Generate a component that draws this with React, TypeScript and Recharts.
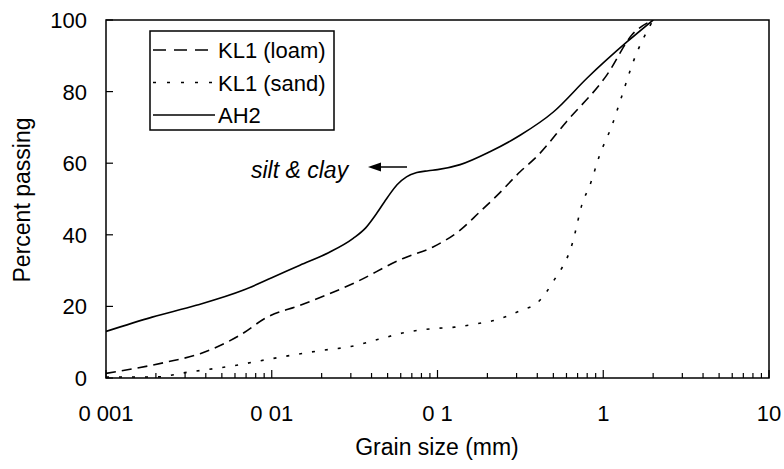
import React from 'react';
import { LineChart, Line, XAxis, YAxis, ReferenceArea, Customized } from 'recharts';

const FONT = '"Liberation Sans", Arial, Helvetica, sans-serif';

// Grain size (mm) and percent passing for each sample
const ah2Size = [0.001, 0.0019, 0.0035, 0.0067, 0.01, 0.0148, 0.022, 0.031, 0.037, 0.043, 0.05, 0.057, 0.065, 0.075, 0.088, 0.1, 0.137, 0.207, 0.315, 0.5, 0.8, 1.4, 2];
const ah2Pass = [13, 17, 20.3, 24.5, 28, 31.5, 35, 39, 42, 46, 50.5, 54, 56.2, 57.4, 57.9, 58.2, 59.6, 63.2, 67.8, 74.3, 83.8, 94, 100];

const loamSize = [0.001, 0.0023, 0.0037, 0.0064, 0.0094, 0.0148, 0.031, 0.062, 0.094, 0.137, 0.18, 0.229, 0.315, 0.4, 0.6, 1.05, 1.5, 2];
const loamPass = [1.3, 4.4, 6.8, 11.9, 17, 20.3, 26.4, 33.4, 36.6, 41.3, 46.4, 51, 57.6, 62, 71.6, 84.6, 96, 100];

const sandSize = [0.001, 0.002, 0.003, 0.006, 0.01, 0.02, 0.03, 0.044, 0.065, 0.094, 0.127, 0.176, 0.22, 0.32, 0.4, 0.5, 0.65, 0.75, 0.83, 0.95, 1.13, 1.26, 1.53, 2];
const sandPass = [0.3, 0.3, 1.5, 3.5, 5.4, 7.7, 8.8, 10.8, 12.8, 13.8, 14.2, 15.2, 16.1, 18.9, 21, 27, 37.5, 49, 53.8, 62.2, 70.6, 77.1, 88.8, 100];

const seriesNames = ['KL1 (loam)', 'KL1 (sand)', 'AH2'];
const seriesDash = ['10 6', '3 10', undefined];
const legendDash = ['13 8', '3 11', undefined];

const xMajorTicks = [0.001, 0.01, 0.1, 1, 10];
const xTickLabels = ['0 001', '0 01', '0 1', '1', '10'];
const xMinorFactors = [2, 3, 4, 5, 6, 7, 8, 9];
const yTicks = [0, 20, 40, 60, 80, 100];

const xAllTicks: number[] = [];
xMajorTicks.forEach((m, i) => {
  xAllTicks.push(m);
  if (i < xMajorTicks.length - 1) xMinorFactors.forEach((f) => xAllTicks.push(m * f));
});

const toPoints = (d: number[], p: number[]) => d.map((v, i) => ({ d: v, p: p[i] }));
const ah2Data = toPoints(ah2Size, ah2Pass);
const loamData = toPoints(loamSize, loamPass);
const sandData = toPoints(sandSize, sandPass);

const XTick = (props: any) => {
  const { x, y, payload } = props;
  const v = payload.value;
  const idx = xMajorTicks.findIndex((m) => Math.abs(m - v) / m < 1e-6);
  const major = idx >= 0;
  return (
    <g>
      <line x1={x} x2={x} y1={y} y2={y - (major ? 8 : 5)} stroke="#000" strokeWidth={1.2} />
      {major && (
        <text x={x} y={y + 43} textAnchor="middle" fontSize={22} fontFamily={FONT} fill="#000">
          {xTickLabels[idx]}
        </text>
      )}
    </g>
  );
};

const YTick = (props: any) => {
  const { x, y, payload } = props;
  return (
    <g>
      <line x1={x} x2={x + 7} y1={y} y2={y} stroke="#000" strokeWidth={1.2} />
      <text x={x - 19} y={y + 8} textAnchor="end" fontSize={22} fontFamily={FONT} fill="#000">
        {payload.value}
      </text>
    </g>
  );
};

const Overlay = () => (
  <g>
    {/* legend */}
    <rect x={150} y={31} width={184} height={99} fill="#fff" stroke="#000" strokeWidth={1.5} />
    {seriesNames.map((name, i) => {
      const cy = 50 + i * 32.5;
      return (
        <g key={name}>
          <line x1={153} x2={215} y1={cy} y2={cy} stroke="#000" strokeWidth={1.5} strokeDasharray={legendDash[i]} />
          <text x={218} y={cy + 8} fontSize={22} fontFamily={FONT} fill="#000">
            {name}
          </text>
        </g>
      );
    })}
    {/* annotation */}
    <text x={251} y={178} fontSize={23} fontStyle="italic" fontFamily={FONT} fill="#000">
      silt &amp; clay
    </text>
    <line x1={378} x2={407} y1={167} y2={167} stroke="#000" strokeWidth={1.5} />
    <path d="M368,167 L381,162.5 L381,171.5 Z" fill="#000" />
  </g>
);

export default function App() {
  return (
    <div style={{ position: 'absolute', left: 0, top: 0, width: 784, height: 469, background: '#fff' }}>
      <LineChart width={784} height={469} margin={{ top: 20, right: 15, bottom: 61, left: 46 }}>
        <XAxis
          type="number"
          dataKey="d"
          scale="log"
          domain={[0.001, 10]}
          ticks={xAllTicks}
          interval={0}
          allowDataOverflow
          height={30}
          tickSize={0}
          tickMargin={0}
          tickLine={false}
          axisLine={false}
          tick={<XTick />}
        />
        <YAxis
          type="number"
          dataKey="p"
          domain={[0, 100]}
          ticks={yTicks}
          interval={0}
          allowDataOverflow
          width={60}
          tickSize={0}
          tickMargin={0}
          tickLine={false}
          axisLine={false}
          tick={<YTick />}
        />
        <ReferenceArea x1={0.001} x2={10} y1={0} y2={100} fill="none" fillOpacity={0} stroke="#000" strokeWidth={1.5} ifOverflow="visible" />
        <Line data={loamData} dataKey="p" name={seriesNames[0]} type="monotone" stroke="#000" strokeWidth={1.6} strokeDasharray={seriesDash[0]} dot={false} isAnimationActive={false} />
        <Line data={sandData} dataKey="p" name={seriesNames[1]} type="monotone" stroke="#000" strokeWidth={1.6} strokeDasharray={seriesDash[1]} dot={false} isAnimationActive={false} />
        <Line data={ah2Data} dataKey="p" name={seriesNames[2]} type="monotone" stroke="#000" strokeWidth={1.6} dot={false} isAnimationActive={false} />
        <Customized component={Overlay} />
        <text x={30} y={200} transform="rotate(-90 30 200)" textAnchor="middle" fontSize={23} fontFamily={FONT} fill="#000">
          Percent passing
        </text>
        <text x={437} y={455} textAnchor="middle" fontSize={23} fontFamily={FONT} fill="#000">
          Grain size (mm)
        </text>
      </LineChart>
    </div>
  );
}
